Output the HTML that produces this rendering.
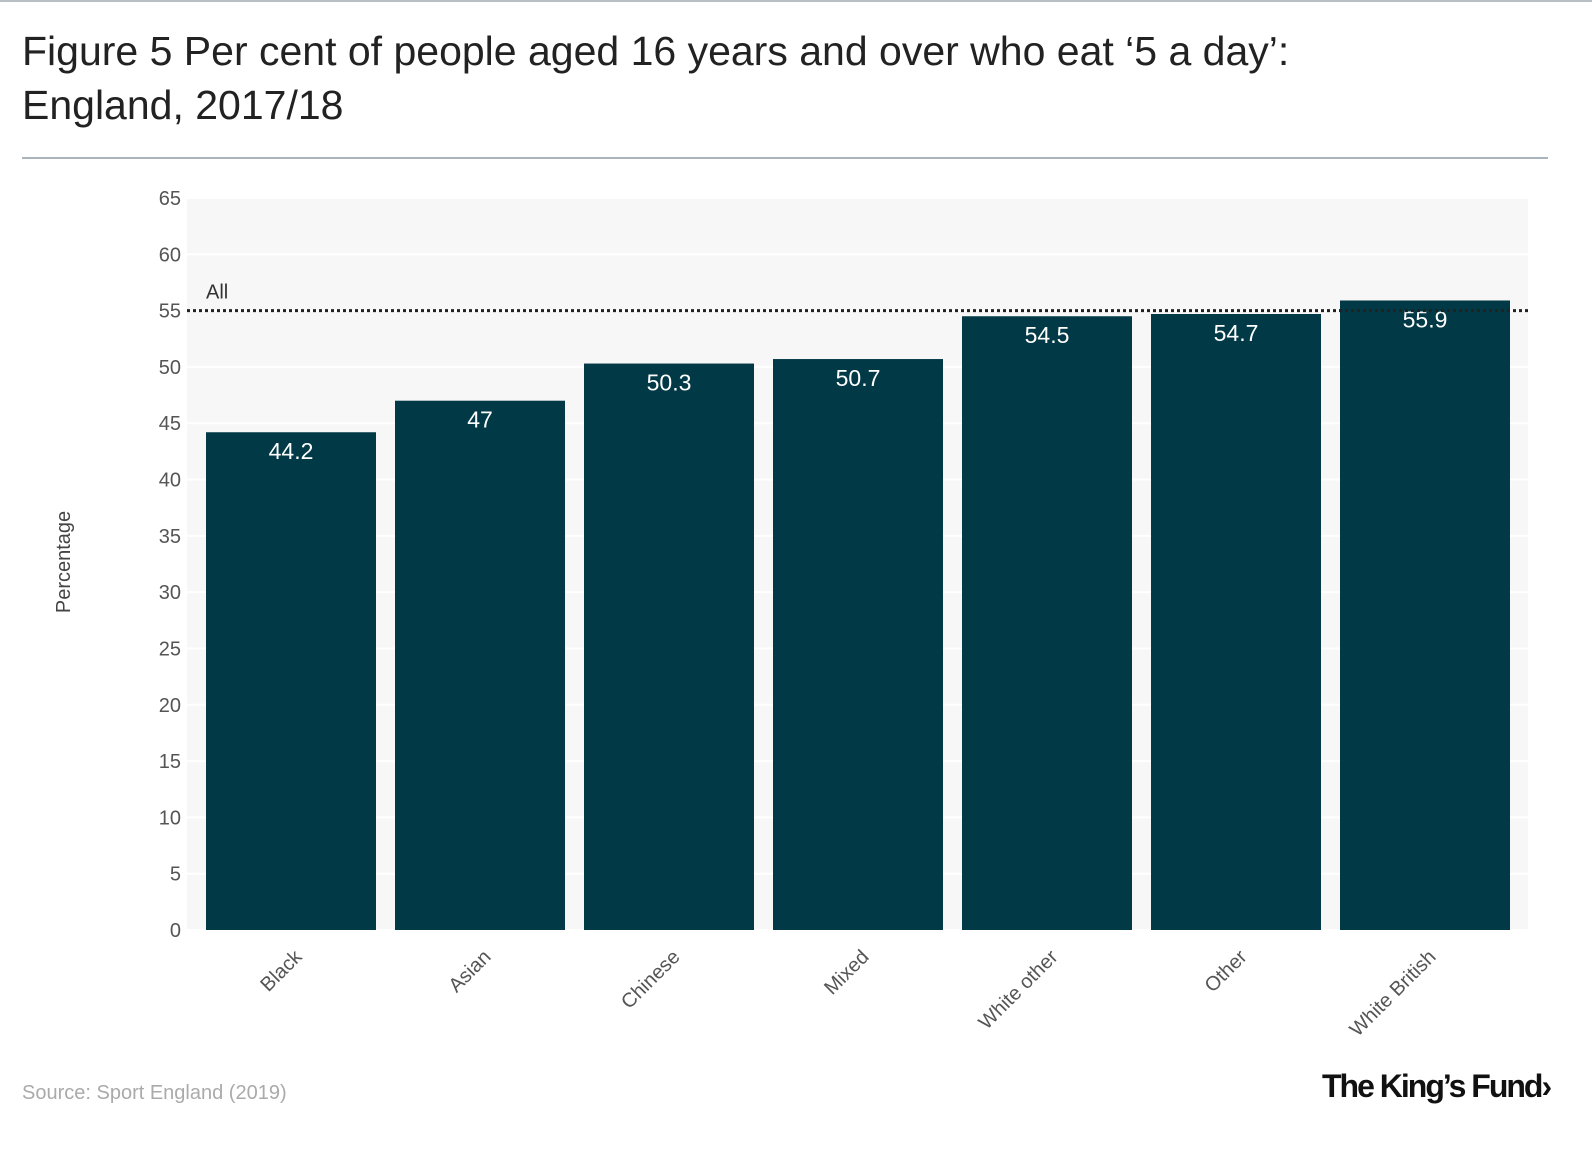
<!DOCTYPE html>
<html><head><meta charset="utf-8"><style>
body{margin:0;background:#fff;font-family:"Liberation Sans",sans-serif;}
#wrap{position:relative;width:1592px;height:1150px;overflow:hidden;}
</style></head><body>
<div id="wrap">
<div style="position:absolute;left:0;top:0;width:1592px;height:2px;background:#b8c0c6"></div>
<div style="position:absolute;left:22px;top:24px;font-size:41px;line-height:54px;color:#222;">Figure 5 Per cent of people aged 16 years and over who eat ‘5 a day’:<br>England, 2017/18</div>
<div style="position:absolute;left:22px;top:157px;width:1526px;height:2px;background:#a9b4bc"></div>
<svg id="chart" width="1592" height="1150" style="position:absolute;left:0;top:0"></svg>
<div style="position:absolute;left:22px;top:1082px;font-size:20px;color:#aaa;">Source: Sport England (2019)</div>
<div style="position:absolute;left:1322px;top:1068px;font-size:32px;font-weight:bold;letter-spacing:-2px;color:#111;">The King’s Fund›</div>
</div>
<script>
const categories=["Black","Asian","Chinese","Mixed","White other","Other","White British"];
const values=[44.2,47,50.3,50.7,54.5,54.7,55.9];
const labels=["44.2","47","50.3","50.7","54.5","54.7","55.9"];
const ticks=[0,5,10,15,20,25,30,35,40,45,50,55,60,65];
const allValue=55;
const NS="http://www.w3.org/2000/svg";
const svg=document.getElementById('chart');
const px0=187,px1=1528,py0=930,py1=198;
const y=v=>py0-(v/65)*(py0-py1);
const step=189,bw=170,bx0=206;
const x=i=>bx0+i*step;
function mk(t,a,p){const e=document.createElementNS(NS,t);for(const k in a)e.setAttribute(k,a[k]);(p||svg).appendChild(e);return e;}
const bg=mk('rect',{x:px0,y:py1,width:px1-px0,height:py0-py1,fill:'#f7f7f7'});


ticks.forEach(t=>{
 const l=mk('line',{x1:px0,x2:px1,y1:y(t),y2:y(t),stroke:'#fff','stroke-width':2});
 
 
 const tx=mk('text',{x:181,y:y(t)+7,'text-anchor':'end','font-size':20,fill:'#555','font-family':'Liberation Sans, sans-serif'});
 tx.textContent=t;
 
 
});
const yt=mk('text',{transform:'translate(70,562) rotate(-90)','text-anchor':'middle','font-size':20,fill:'#444','font-family':'Liberation Sans, sans-serif'});
yt.textContent='Percentage';


values.forEach((v,i)=>{
 const r=mk('rect',{x:x(i),y:y(v),width:bw,height:py0-y(v),fill:'#023946'});
 
 
 const t=mk('text',{x:x(i)+bw/2,y:y(v)+27,'text-anchor':'middle','font-size':23,fill:'#fff','font-family':'Liberation Sans, sans-serif'});
 t.textContent=labels[i];
 
 
 const cx=x(i)+bw/2+12,cy=958;
 const c=mk('text',{x:cx,y:cy,'text-anchor':'end','font-size':20,fill:'#555','font-family':'Liberation Sans, sans-serif',transform:`rotate(-45 ${cx} ${cy})`});
 c.textContent=categories[i];
 
 
});
const al=mk('line',{x1:px0,x2:px1,y1:y(allValue),y2:y(allValue),stroke:'#222','stroke-width':3,'stroke-dasharray':'3 3'});


const at=mk('text',{x:206,y:y(allValue)-12,'font-size':20,fill:'#333','font-family':'Liberation Sans, sans-serif'});
at.textContent='All';


</script>
</body></html>
